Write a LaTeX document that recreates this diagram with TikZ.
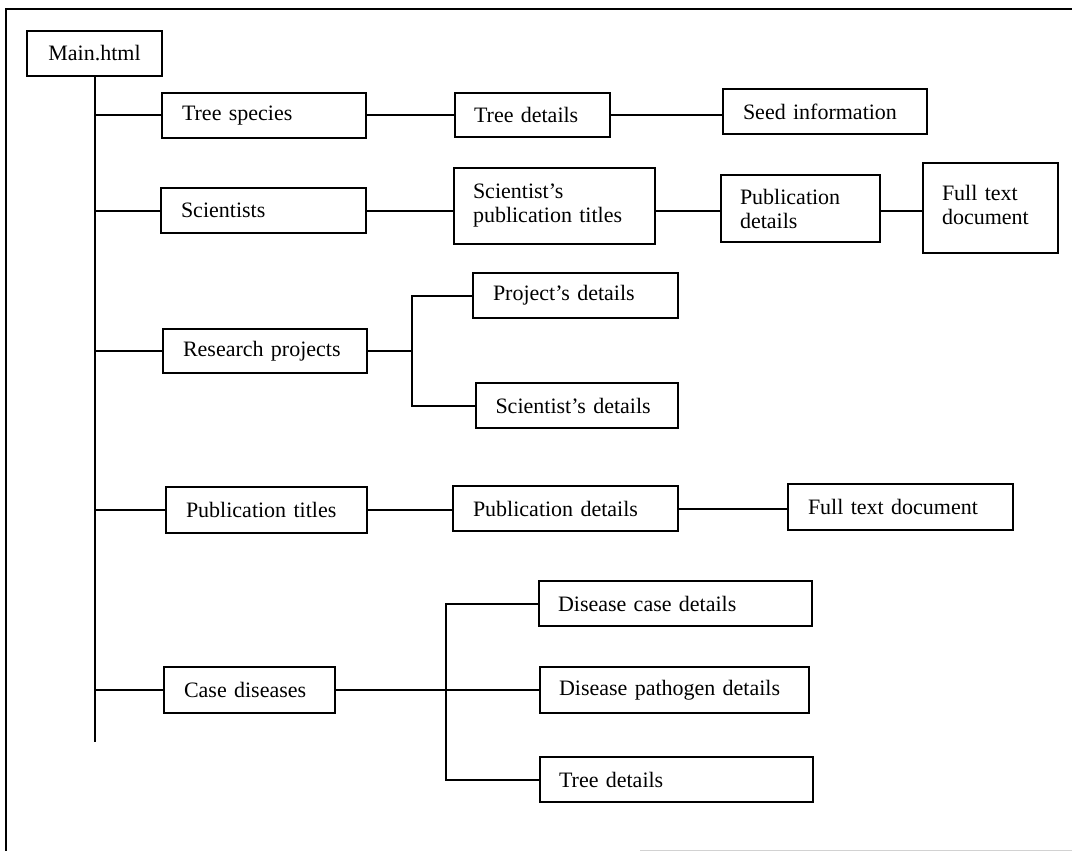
\documentclass[tikz,border=0pt]{standalone}
\usepackage{fontspec}
\setmainfont{Liberation Serif}
\begin{document}
\begin{tikzpicture}[x=1pt,y=-1pt,
  box/.style={draw, line width=2.2pt, inner sep=0pt, align=left,
              font=\fontsize{22}{24}\selectfont},
  link/.style={line width=2pt},
  frame/.style={line width=2pt}]
\useasboundingbox (0,0) rectangle (1072,851);

% page frame
\draw[frame] (6,851) -- (6,9) -- (1072,9);
\draw[gray!35, line width=1pt] (640,850) -- (1072,850);

% root
\node[box, align=center, minimum width=135pt, minimum height=45pt] (main) at (94.5,53.5) {Main.html};

% first level
\node[box, minimum width=204pt, minimum height=45pt, text width=164pt] (ts)  at (264,115.5)   {Tree species};
\node[box, minimum width=205pt, minimum height=45pt, text width=165pt] (sci) at (263.5,210.5) {Scientists};
\node[box, minimum width=204pt, minimum height=44pt, text width=164pt] (rp)  at (265,351)     {Research projects};
\node[box, minimum width=201pt, minimum height=46pt, text width=161pt] (pt)  at (266.5,510)   {Publication titles};
\node[box, minimum width=171pt, minimum height=46pt, text width=131pt] (cd)  at (249.5,690)   {Case diseases};

% tree species branch
\node[box, minimum width=155pt, minimum height=44pt, text width=117pt] (td1)  at (532.5,115) {Tree details};
\node[box, minimum width=204pt, minimum height=45pt, text width=164pt] (seed) at (825,111.5) {Seed information};

% scientists branch
\node[box, minimum width=201pt, minimum height=76pt, text width=163pt] (spt)  at (554.5,206) {Scientist’s\\publication titles};
\node[box, minimum width=159pt, minimum height=67pt, text width=121pt] (pd1)  at (800.5,208.5) {Publication\\details};
\node[box, minimum width=135pt, minimum height=90pt, text width=97pt]  (ftd1) at (990.5,208) {\raisebox{6pt}{\parbox[b]{97pt}{Full text\\document}}};

% research projects branch
\node[box, minimum width=205pt, minimum height=45pt, text width=165pt] (projd) at (575.5,295.5) {Project’s details};
\node[box, minimum width=202pt, minimum height=45pt, text width=163pt] (scid)  at (577,405.5)   {Scientist’s details};

% publication titles branch
\node[box, minimum width=225pt, minimum height=45pt, text width=185pt] (pd2)  at (565.5,508.5) {Publication details};
\node[box, minimum width=225pt, minimum height=46pt, text width=185pt] (ftd2) at (900.5,507)   {Full text document};

% case diseases branch
\node[box, minimum width=273pt, minimum height=45pt, text width=235pt] (dcd) at (675.5,603.5) {Disease case details};
\node[box, minimum width=269pt, minimum height=46pt, text width=231pt] (dpd) at (674.5,690)   {Disease pathogen details};
\node[box, minimum width=273pt, minimum height=45pt, text width=235pt] (td2) at (676.5,779.5) {Tree details};

% trunk and first-level branches
\coordinate (trunkend) at (95,742);
\draw[link] (main.south) -- (main.south |- trunkend);
\foreach \n in {ts,sci,rp,pt,cd}
  \draw[link] (main.south |- \n.west) -- (\n.west);

% horizontal chains
\draw[link] (ts.east) -- (ts.east -| td1.west);
\draw[link] (td1.east) -- (td1.east -| seed.west);
\draw[link] (sci.east) -- (sci.east -| spt.west);
\draw[link] (spt.east |- sci.east) -- (sci.east -| pd1.west);
\draw[link] (pd1.east |- sci.east) -- (sci.east -| ftd1.west);
\draw[link] (pt.east) -- (pt.east -| pd2.west);
\draw[link] (pd2.east) -- (pd2.east -| ftd2.west);

% forks
\coordinate (rpbus) at (412,351);
\draw[link] (rp.east) -- (rpbus);
\draw[link] (projd.west) -| (rpbus) |- (scid.west);

\coordinate (cdbus) at (446,690);
\draw[link] (cd.east) -- (dpd.west);
\draw[link] (dcd.west) -| (cdbus) |- (td2.west);
\end{tikzpicture}
\end{document}
